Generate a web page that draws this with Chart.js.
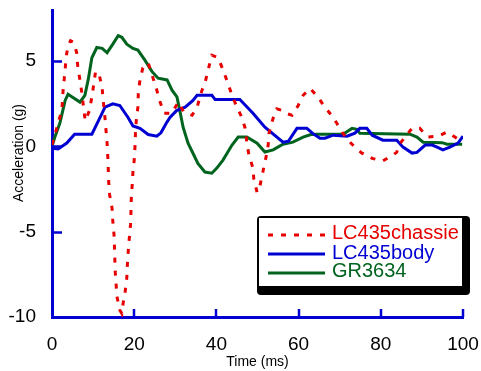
<!DOCTYPE html>
<html>
<head>
<meta charset="utf-8">
<script src="https://cdn.jsdelivr.net/npm/chart.js@4/dist/chart.umd.min.js"></script>
<style>
html,body{margin:0;padding:0;background:#fff;}
#wrap{width:481px;height:371px;position:relative;}
</style>
</head>
<body>
<div id="wrap"><canvas id="c" width="481" height="371"></canvas></div>
<script>
// ---- data ----
const seriesNames = ["LC435chassie", "LC435body", "GR3634"];
const chassieT = [0,0.7,1.5,2.4,2.7,3.2,3.4,3.9,4.5,5.3,6.0,6.3,6.8,7.4,7.7,8.1,9.1,9.7,10.2,10.6,11.5,12.2,12.5,12.9,13.4,13.6,13.8,14.0,14.6,14.8,15.1,15.2,15.3,15.4,15.6,15.8,16.5,17.0,17.3,17.8,18.2,18.4,18.8,19.1,19.2,19.3,19.5,19.7,20.0,20.2,20.3,20.5,20.9,21.0,21.4,22.1,23.4,24.6,25.5,26.3,27.3,29.2,30.7,32.1,34.1,35.3,36.5,37.2,38.0,38.9,40.4,41.6,42.8,43.8,45.0,46.2,47.0,47.4,47.9,48.9,49.1,49.9,50.6,51.3,52.1,52.6,52.8,53.8,54.7,56.2,57.4,58.4,59.9,61.1,62.8,64.7,66.4,67.6,69.3,70.6,72.0,73.7,75.4,76.6,77.9,80.5,83.0,83.9,84.4,85.9,87.6,89.5,90.3,91.5,93.9,96.1,97.3,98.5,99.8];
const chassieG = [0.1,0.66,1.4,2.1,3.3,4.5,5.2,5.9,6.2,6.1,5.5,4.6,3.9,2.9,2.2,1.5,2.1,2.9,3.7,4.4,4.2,3.4,2.6,1.65,0.2,-0.7,-2.1,-2.8,-3.6,-4.4,-5.2,-5.9,-6.7,-7.4,-8.1,-8.8,-9.6,-9.8,-9.2,-8.5,-7.7,-6.6,-5.4,-4.6,-3.9,-3.0,-2.3,-1.5,-0.8,0,0.78,1.5,2.3,3.1,3.9,4.6,4.9,4.0,3.3,2.6,1.95,1.95,2.6,2.0,1.83,2.3,3.3,3.7,4.5,5.35,5.2,4.5,3.7,3.0,2.3,1.7,1.06,0.25,-0.5,-1.27,-1.9,-2.7,-2.3,-1.5,-0.6,0.08,0.78,1.65,2.2,2.1,1.9,1.83,2.4,3.0,3.4,2.9,2.3,1.95,1.36,0.84,0.37,-0.04,-0.39,-0.5,-0.7,-0.85,-0.5,-0.33,0.08,0.55,1.06,1.06,0.84,0.55,0.6,0.84,0.66,0.48,0.37];
const bodyT = [0,1.5,3.6,5.5,9.7,11.7,12.9,14.8,16.5,18.5,19.7,21.4,23.4,25.5,26.5,27.8,28.7,30.3,32.4,34.3,35.3,38.9,39.7,45.7,48.9,51.8,56.2,57.5,59.6,62,63.5,65.2,66.4,68.4,71.8,73.7,74.9,76.6,77.9,80.5,83.9,85.4,87.6,88.8,90.8,92.5,93.7,95.1,96.8,98.8,100];
const bodyG = [-0.1,-0.15,0.2,0.72,0.72,1.7,2.3,2.5,2.4,1.7,1.2,1.06,0.7,0.6,0.8,1.36,1.7,2.1,2.3,2.7,3.0,3.0,2.75,2.75,1.95,1.13,0.25,0.3,1.06,1.06,0.75,0.48,0.48,0.66,0.6,0.78,1.06,1.06,0.66,0.37,0.37,-0.04,-0.39,-0.35,0.08,0.08,-0.04,-0.2,-0.04,0.2,0.6];
const grT = [0,0.7,1.9,3.2,3.9,4.9,6.8,8.0,8.8,9.7,10.9,12.2,13.4,14.8,16.1,17.0,18.2,19.7,20.9,22.6,24.3,25.8,28,29.2,30.4,31.1,31.9,33.1,34.3,35.5,37.2,38.9,40.1,41.6,43.8,45.3,47.4,49.9,51.8,53.8,56.2,58.6,61.1,63,64.5,70.8,73,74.2,74.9,87.1,88.8,90.3,94.9,96.1,99.8];
const grG = [0,0.55,1.36,2.7,3.06,2.9,2.6,3.0,3.9,5.2,5.8,5.75,5.5,6.0,6.5,6.4,6.0,5.75,5.65,5.06,4.4,4.0,3.9,3.3,2.9,2.1,1.13,0.19,-0.4,-1.0,-1.5,-1.57,-1.27,-0.8,0.08,0.55,0.55,0.19,-0.33,-0.2,0.13,0.25,0.55,0.7,0.72,0.72,1.06,1.0,0.77,0.72,0.55,0.25,0.22,0.13,0.13];
const xTickValues = [0,20,40,60,80,100];
const yTickValues = [-10,-5,0,5];
const xTitle = "Time (ms)";
const yTitle = "Acceleration (g)";

const RED = "#e60000", BLUE = "#0000d2", GREEN = "#00641e";
const FONT = "'Liberation Sans', Arial, sans-serif";
const pts = (t, g) => t.map((v, i) => ({x: v, y: g[i]}));

const extras = {
  id: 'extras',
  afterDraw(chart) {
    const ctx = chart.ctx;
    const xs = chart.scales.x, ys = chart.scales.y;
    const area = chart.chartArea;
    ctx.save();
    ctx.strokeStyle = BLUE;
    ctx.lineWidth = 2.5;
    yTickValues.forEach(v => {
      if (v === ys.min) return;
      const y = Math.round(ys.getPixelForValue(v)) + 0.5;
      ctx.beginPath(); ctx.moveTo(area.left, y); ctx.lineTo(area.left + 10, y); ctx.stroke();
    });
    xTickValues.forEach(v => {
      if (v === xs.min) return;
      const x = Math.round(xs.getPixelForValue(v));
      ctx.beginPath(); ctx.moveTo(x, area.bottom); ctx.lineTo(x, area.bottom - 8); ctx.stroke();
    });
    ctx.fillStyle = "#000";
    ctx.font = "14px " + FONT;
    ctx.textAlign = "center"; ctx.textBaseline = "middle";
    ctx.fillText(xTitle, (area.left + area.right) / 2, 362);
    ctx.save();
    ctx.translate(19, 153);
    ctx.rotate(-Math.PI / 2);
    ctx.fillText(yTitle, 0, 0);
    ctx.restore();
    const bx = 257, by = 216, bw = 213, bh = 79;
    ctx.fillStyle = "#000";
    ctx.beginPath();
    ctx.roundRect(bx, by, bw, bh, 4);
    ctx.fill();
    ctx.fillStyle = "#fff";
    ctx.fillRect(bx + 2, by + 2, 203, 68);
    const rowsLine = [235, 254, 273];
    const rowsText = [233, 253, 271];
    chart.data.datasets.forEach((ds, i) => {
      ctx.strokeStyle = ds.borderColor;
      ctx.lineWidth = 3;
      ctx.setLineDash(ds.borderDash || []);
      ctx.beginPath(); ctx.moveTo(268, rowsLine[i]); ctx.lineTo(325, rowsLine[i]); ctx.stroke();
      ctx.setLineDash([]);
      ctx.fillStyle = ds.borderColor;
      ctx.font = "20px " + FONT;
      ctx.textAlign = "left"; ctx.textBaseline = "middle";
      ctx.fillText(ds.label, 332, rowsText[i]);
    });
    ctx.restore();
  }
};

new Chart(document.getElementById('c'), {
  type: 'line',
  data: {
    datasets: [
      {label: seriesNames[0], data: pts(chassieT, chassieG), borderColor: RED, borderWidth: 3, borderDash: [5, 8], pointRadius: 0, tension: 0, fill: false},
      {label: seriesNames[1], data: pts(bodyT, bodyG), borderColor: BLUE, borderWidth: 3, pointRadius: 0, tension: 0, fill: false},
      {label: seriesNames[2], data: pts(grT, grG), borderColor: GREEN, borderWidth: 3, pointRadius: 0, tension: 0, fill: false}
    ]
  },
  options: {
    responsive: false,
    animation: false,
    layout: {padding: {top: 10, right: 18, left: 0, bottom: 0}},
    plugins: {legend: {display: false}, tooltip: {enabled: false}},
    scales: {
      x: {
        type: 'linear', min: 0, max: 100,
        afterFit(s) { s.height = 54; s.paddingLeft = 0; s.paddingRight = 0; },
        afterBuildTicks(s) { s.ticks = xTickValues.map(v => ({value: v})); },
        grid: {display: false, drawTicks: false},
        border: {display: true, color: BLUE, width: 3},
        ticks: {color: '#000', font: {size: 19, family: FONT}, padding: 16, maxRotation: 0}
      },
      y: {
        type: 'linear', min: -10, max: 8,
        afterFit(s) { s.width = 52; s.paddingTop = 0; s.paddingBottom = 0; },
        afterBuildTicks(s) { s.ticks = yTickValues.map(v => ({value: v})); },
        grid: {display: false, drawTicks: false},
        border: {display: true, color: BLUE, width: 3},
        ticks: {color: '#000', font: {size: 19, family: FONT}, padding: 16}
      }
    }
  },
  plugins: [extras]
});
</script>
</body>
</html>
